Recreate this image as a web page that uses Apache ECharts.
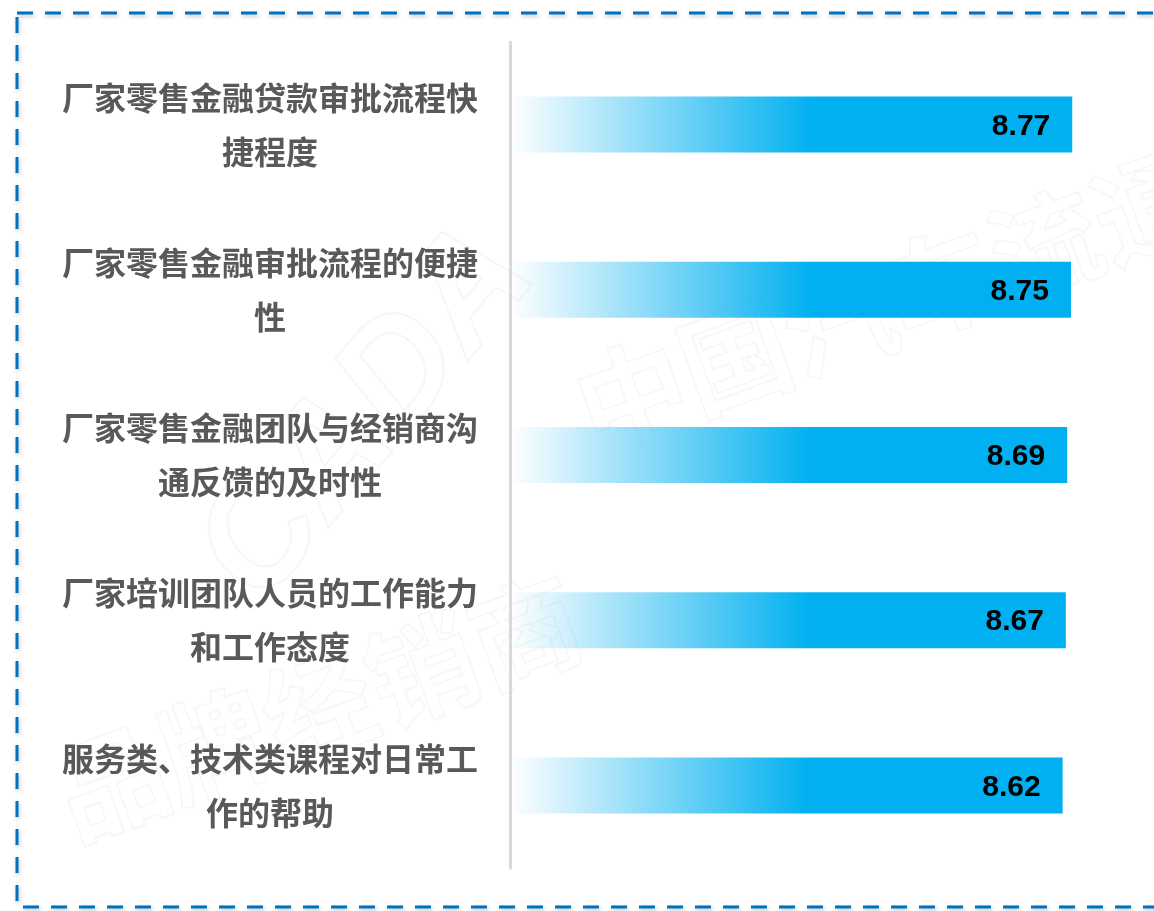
<!DOCTYPE html>
<html>
<head>
<meta charset="utf-8">
<style>
  html, body { margin: 0; padding: 0; background: #ffffff; }
  #chart { width: 1154px; height: 911px; }
</style>
<script src="https://cdn.jsdelivr.net/npm/echarts@6/dist/echarts.min.js"></script>
</head>
<body>
<div id="chart"></div>
<script>
// Data (top to bottom as in the picture)
var categories = [
  '厂家零售金融贷款审批流程快捷程度',
  '厂家零售金融审批流程的便捷性',
  '厂家零售金融团队与经销商沟通反馈的及时性',
  '厂家培训团队人员的工作能力和工作态度',
  '服务类、技术类课程对日常工作的帮助'
];
var scores = [8.77, 8.75, 8.69, 8.67, 8.62];

var chart = echarts.init(document.getElementById('chart'));

function wrap(s, n) {
  var out = [];
  for (var i = 0; i < s.length; i += n) out.push(s.slice(i, i + n));
  return out.join('\n');
}

var option = {
  backgroundColor: '#ffffff',
  animation: false,
  graphic: [
    {
      type: 'text', left: 170, top: 200, rotation: Math.PI / 3.6, silent: true, z: 0,
      style: { text: 'CADA', font: 'italic bold 150px "Liberation Sans"', fill: 'rgba(0,0,0,0)', stroke: 'rgba(0,0,0,0.035)', lineWidth: 2 }
    },
    {
      type: 'text', left: 560, top: 60, rotation: Math.PI / 9, silent: true, z: 0,
      style: { text: '中国汽车流通协会', font: 'bold 110px "Noto Sans CJK SC"', fill: 'rgba(0,0,0,0)', stroke: 'rgba(0,0,0,0.03)', lineWidth: 2 }
    },
    {
      type: 'text', left: 40, top: 560, rotation: Math.PI / 9, silent: true, z: 0,
      style: { text: '品牌经销商', font: 'bold 110px "Noto Sans CJK SC"', fill: 'rgba(0,0,0,0)', stroke: 'rgba(0,0,0,0.03)', lineWidth: 2 }
    },
    {
      type: 'rect', silent: true, z: 10,
      shape: { x: 17, y: 13, width: 1160, height: 894 },
      style: {
        fill: 'none', stroke: '#0070C0', lineWidth: 3, lineDash: [16, 12],
        shadowColor: 'rgba(0,0,0,0.25)', shadowBlur: 4, shadowOffsetX: 1, shadowOffsetY: 2
      }
    }
  ],
  grid: { left: 510, top: 42, width: 577, height: 826, containLabel: false },
  xAxis: {
    type: 'value', min: 0, max: 9,
    show: false
  },
  yAxis: {
    type: 'category',
    inverse: true,
    data: categories,
    axisLine: { show: true, lineStyle: { color: '#d9d9d9', width: 3 } },
    axisTick: { show: false },
    axisLabel: {
      margin: 240,
      align: 'center',
      color: '#595959',
      fontSize: 32,
      fontWeight: 'bold',
      fontFamily: '"Noto Sans CJK SC"',
      lineHeight: 54,
      formatter: function (v) { return wrap(v, 13); }
    }
  },
  series: [{
    type: 'bar',
    data: scores,
    barWidth: 56,
    itemStyle: {
      color: new echarts.graphic.LinearGradient(0, 0, 1, 0, [
        { offset: 0, color: 'rgba(0,176,240,0)' },
        { offset: 0.54, color: 'rgba(0,176,240,1)' },
        { offset: 1, color: 'rgba(0,176,240,1)' }
      ])
    },
    label: {
      show: true,
      position: 'insideRight',
      distance: 22,
      offset: [0, 2],
      color: '#000000',
      fontSize: 30,
      fontWeight: 'bold',
      fontFamily: '"Liberation Sans", Arial',
      formatter: function (p) { return p.value.toFixed(2); }
    }
  }]
};
chart.setOption(option);
</script>
</body>
</html>
